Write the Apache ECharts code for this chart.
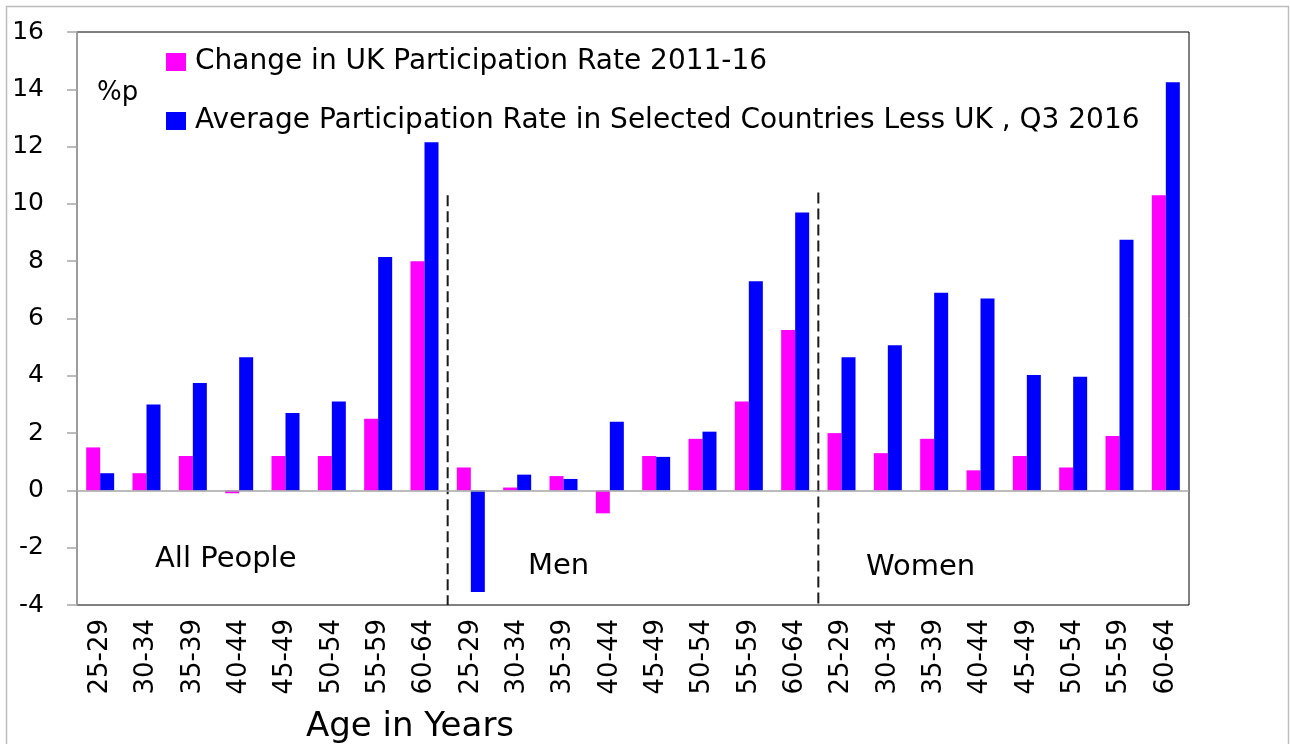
<!DOCTYPE html>
<html>
<head>
<meta charset="utf-8">
<script src="https://cdn.jsdelivr.net/npm/echarts@6/dist/echarts.min.js"></script>
<style>
html,body{margin:0;padding:0;background:#fff;}
#chart{width:1290px;height:744px;}
</style>
</head>
<body>
<div id="chart"></div>
<script>
// age bands, repeated for All People / Men / Women
var ages = ['25-29','30-34','35-39','40-44','45-49','50-54','55-59','60-64'];
var categories = ages.concat(ages, ages);
var seriesNames = ['Change in UK Participation Rate 2011-16', 'Average Participation Rate in Selected Countries Less UK , Q3 2016'];
// pink: change in UK rate
var ukChange = [1.5,0.6,1.2,-0.1,1.2,1.2,2.5,8.0,
                0.8,0.1,0.5,-0.8,1.2,1.8,3.1,5.6,
                2.0,1.3,1.8,0.7,1.2,0.8,1.9,10.3];
// blue: average of other countries less UK
var avgLessUK = [0.6,3.0,3.75,4.65,2.7,3.1,8.15,12.15,
                 -3.55,0.55,0.4,2.4,1.17,2.05,7.3,9.7,
                 4.65,5.07,6.9,6.7,4.03,3.97,8.75,14.25];
var yTicks = {min:-4, max:16, interval:2};
// dashed separators between groups: [category boundary, top value]
var dividers = [[8,10.3],[16,10.4]];
var groupNames = ['All People','Men','Women'];

var font = '"DejaVu Sans", sans-serif';
var myChart = echarts.init(document.getElementById('chart'));

var series = [{
    name: seriesNames[0],
    type: 'bar',
    data: ukChange,
    barWidth: 14,
    barGap: '0%',
    itemStyle: {color: '#ff00ff'},
    markLine: {
        silent: true,
        symbol: 'none',
        label: {show: false},
        lineStyle: {color: '#a6a6a6', type: 'solid', width: 1.5},
        data: [{yAxis: 0}]
    }
},{
    name: seriesNames[1],
    type: 'bar',
    data: avgLessUK,
    barWidth: 14,
    itemStyle: {color: '#0000ff'}
}];
for (var i = 0; i < dividers.length; i++) {
    series.push({
        type: 'line',
        xAxisIndex: 1,
        symbol: 'none',
        silent: true,
        lineStyle: {color: '#1a1a1a', type: [11, 5], width: 2},
        data: [[dividers[i][0], dividers[i][1]], [dividers[i][0], yTicks.min]]
    });
}

var option = {
    animation: false,
    textStyle: {fontFamily: font},
    grid: {
        left: 77, right: 101, top: 32, bottom: 139,
        show: true, borderColor: '#000', borderWidth: 1
    },
    legend: {
        orient: 'vertical',
        left: 161, top: 43,
        icon: 'rect',
        itemWidth: 20, itemHeight: 18,
        itemGap: 31,
        data: seriesNames,
        textStyle: {fontSize: 28, color: '#000', fontFamily: font, padding: [0, 0, 0, 4]}
    },
    xAxis: [{
        type: 'category',
        data: categories,
        axisLine: {show: false, onZero: false},
        axisTick: {show: false},
        axisLabel: {rotate: 90, fontSize: 26, color: '#000', margin: 14, interval: 0, fontFamily: font}
    },{
        type: 'value',
        min: 0, max: categories.length,
        show: false
    }],
    yAxis: {
        type: 'value',
        min: yTicks.min, max: yTicks.max, interval: yTicks.interval,
        axisLine: {show: true, lineStyle: {color: '#a6a6a6', width: 1.5}},
        axisTick: {show: true, length: 10, lineStyle: {color: '#a6a6a6', width: 1.5}},
        axisLabel: {fontSize: 25, color: '#000', margin: 33, fontFamily: font},
        splitLine: {show: false}
    },
    graphic: [
        {type: 'rect', left: 4, top: 4, shape: {width: 1282, height: 745}, style: {fill: 'none', stroke: '#bdbdbd', lineWidth: 1.5}, z: -1},
        {type: 'text', left: 97, top: 80, style: {text: '%p', fontSize: 26, fill: '#000', fontFamily: font}},
        {type: 'text', left: 155, top: 545, style: {text: groupNames[0], fontSize: 29, fill: '#000', fontFamily: font}},
        {type: 'text', left: 528, top: 552, style: {text: groupNames[1], fontSize: 29, fill: '#000', fontFamily: font}},
        {type: 'text', left: 866, top: 553, style: {text: groupNames[2], fontSize: 29, fill: '#000', fontFamily: font}},
        {type: 'text', left: 306, top: 710, style: {text: 'Age in Years', fontSize: 34, fill: '#000', fontFamily: font}}
    ],
    series: series
};
myChart.setOption(option);
</script>
</body>
</html>
